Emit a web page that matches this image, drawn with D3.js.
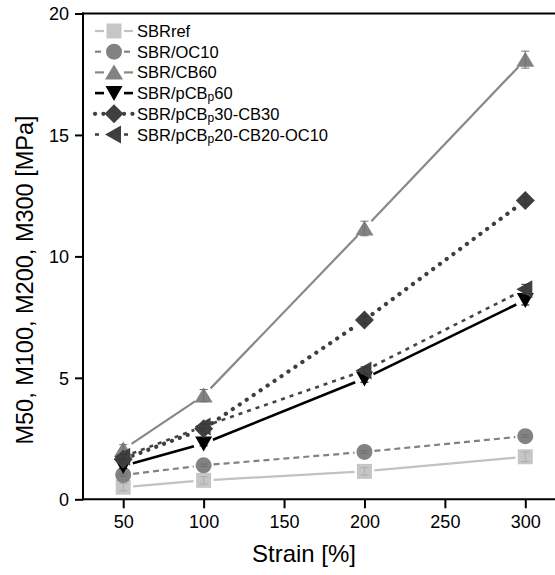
<!DOCTYPE html>
<html>
<head>
<meta charset="utf-8">
<script src="https://cdn.jsdelivr.net/npm/d3@7"></script>
<style>
  body { margin: 0; background: #fff; }
  text { font-family: Arial, "Liberation Sans", sans-serif; fill: #000; }
</style>
</head>
<body>
<div id="chart"></div>
<script>
// ------------------------------------
// Data
// ------------------------------------
const strain = [50, 100, 200, 300];
const xTicks = [50, 100, 150, 200, 250, 300];
const yTicks = [0, 5, 10, 15, 20];

const seriesNames = ["SBRref", "SBR/OC10", "SBR/CB60", "SBR/pCBp60", "SBR/pCBp30-CB30", "SBR/pCBp20-CB20-OC10"];

const sbrRef   = [0.5, 0.78, 1.15, 1.75];
const sbrOC10  = [1.0, 1.4, 1.95, 2.6];
const sbrCB60  = [2.05, 4.27, 11.15, 18.1];
const pCB60    = [1.37, 2.3, 4.97, 8.2];
const pCB30CB  = [1.65, 2.9, 7.38, 12.3];
const pCB20mix = [1.75, 3.0, 5.3, 8.65];

const errRef   = [0.15, 0.15, 0.15, 0.2];
const errOC10  = [0.05, 0.05, 0.05, 0.05];
const errCB60  = [0.2, 0.25, 0.3, 0.35];
const errPCB60 = [0.1, 0.1, 0.15, 0.2];
const errPCB30 = [0.1, 0.1, 0.15, 0.15];
const errPCB20 = [0.1, 0.1, 0.15, 0.2];

// ------------------------------------
// Styles per series
// ------------------------------------
const styles = [
  { values: sbrRef,   err: errRef,   marker: "square",  fill: "#c6c6c6", line: "#c2c2c2", width: 2.2, dash: null,      cap: "butt" },
  { values: sbrOC10,  err: errOC10,  marker: "circle",  fill: "#828282", line: "#828282", width: 2.2, dash: "6 4",     cap: "butt" },
  { values: sbrCB60,  err: errCB60,  marker: "up",      fill: "#828282", line: "#888888", width: 2.2, dash: null,      cap: "butt" },
  { values: pCB60,    err: errPCB60, marker: "down",    fill: "#000000", line: "#000000", width: 2.6, dash: null,      cap: "butt" },
  { values: pCB30CB,  err: errPCB30, marker: "diamond", fill: "#3f3f3f", line: "#3f3f3f", width: 4.2, dash: "0.1 8.3", cap: "round" },
  { values: pCB20mix, err: errPCB20, marker: "left",    fill: "#3f3f3f", line: "#444444", width: 2.6, dash: "4 5",     cap: "butt" }
];

const markerPaths = {
  square:  "M-7.5,-7.5h15v15h-15Z",
  circle:  "M8,0A8,8 0 1,1 -8,0A8,8 0 1,1 8,0Z",
  up:      "M0,-8L9,7L-9,7Z",
  down:    "M0,8L8.5,-7L-8.5,-7Z",
  diamond: "M0,-9.5L9.5,0L0,9.5L-9.5,0Z",
  left:    "M-9,0L7,-9L7,9Z"
};

// ------------------------------------
// Build chart
// ------------------------------------
const width = 555, height = 575;

const svg = d3.select("#chart")
    .append("svg")
    .attr("width", width)
    .attr("height", height);

const x = d3.scaleLinear().domain([25, 325]).range([83, 565.5]);
const y = d3.scaleLinear().domain([0, 20]).range([499.3, 13.5]);

// lines between markers, trimmed so they stop short of the symbols
const gap = 10;
styles.forEach(s => {
  const pts = strain.map((v, i) => [x(v), y(s.values[i])]);
  for (let i = 0; i < pts.length - 1; i++) {
    const [x0, y0] = pts[i], [x1, y1] = pts[i + 1];
    const len = Math.hypot(x1 - x0, y1 - y0);
    const ux = (x1 - x0) / len, uy = (y1 - y0) / len;
    svg.append("line")
        .attr("x1", x0 + ux * gap).attr("y1", y0 + uy * gap)
        .attr("x2", x1 - ux * gap).attr("y2", y1 - uy * gap)
        .attr("stroke", s.line)
        .attr("stroke-width", s.width)
        .attr("stroke-linecap", s.cap)
        .attr("stroke-dasharray", s.dash);
  }
});

// markers + error bars
styles.forEach(s => {
  const g = svg.append("g");
  strain.forEach((v, i) => {
    const cx = x(v), cy = y(s.values[i]);
    g.append("path")
        .attr("d", markerPaths[s.marker])
        .attr("transform", `translate(${cx},${cy})`)
        .attr("fill", s.fill);
    const yt = y(s.values[i] + s.err[i]), yb = y(s.values[i] - s.err[i]);
    const ec = d3.color(s.fill).darker(0.4);
    g.append("line").attr("x1", cx).attr("x2", cx).attr("y1", yt).attr("y2", yb)
        .attr("stroke", ec).attr("stroke-width", 1);
    [yt, yb].forEach(yy => g.append("line")
        .attr("x1", cx - 4).attr("x2", cx + 4).attr("y1", yy).attr("y2", yy)
        .attr("stroke", ec).attr("stroke-width", 1));
  });
});

// ------------------------------------
// Axes
// ------------------------------------
const xAxis = svg.append("g")
    .attr("transform", `translate(0,${y(0)})`)
    .call(d3.axisBottom(x).tickValues(xTicks).tickSize(9).tickPadding(7));
xAxis.select(".domain").attr("d", `M83,0H555`);

const yAxis = svg.append("g")
    .attr("transform", `translate(83,0)`)
    .call(d3.axisLeft(y).tickValues(yTicks).tickSize(8).tickPadding(6));

[xAxis, yAxis].forEach(a => {
  a.select(".domain").attr("stroke", "#000").attr("stroke-width", 2);
  a.selectAll(".tick line").attr("stroke", "#000").attr("stroke-width", 2);
  a.selectAll(".tick text")
      .style("font-family", "Arial, 'Liberation Sans', sans-serif")
      .style("font-size", "18px")
      .attr("fill", "#000");
});
yAxis.select(".domain").attr("d", `M0,${y(0) + 1}V${y(20) - 1}`);
yAxis.selectAll(".tick text").attr("dy", "0.36em");

// top border
svg.append("line")
    .attr("x1", 82).attr("x2", 555)
    .attr("y1", y(20)).attr("y2", y(20))
    .attr("stroke", "#000").attr("stroke-width", 2);

// axis titles
svg.append("text")
    .attr("x", 304).attr("y", 562)
    .attr("text-anchor", "middle")
    .style("font-size", "24px")
    .text("Strain [%]");

svg.append("text")
    .attr("transform", "translate(33,280) rotate(-90)")
    .attr("text-anchor", "middle")
    .style("font-size", "23.5px")
    .text("M50, M100, M200, M300 [MPa]");

// ------------------------------------
// Legend
// ------------------------------------
const legend = svg.append("g");
styles.forEach((s, i) => {
  const ly = 31 + i * 20.7;
  [[95, 104], [124, 133]].forEach(([a, b]) => legend.append("line")
      .attr("x1", a).attr("x2", b).attr("y1", ly).attr("y2", ly)
      .attr("stroke", s.line).attr("stroke-width", s.width)
      .attr("stroke-linecap", s.cap)
      .attr("stroke-dasharray", s.dash));
  legend.append("path")
      .attr("d", markerPaths[s.marker])
      .attr("transform", `translate(114,${ly})`)
      .attr("fill", s.fill);

  const t = legend.append("text")
      .attr("x", 137).attr("y", ly + 6)
      .style("font-size", "16.5px");
  const name = seriesNames[i];
  const k = name.indexOf("pCBp");
  if (k < 0) {
    t.text(name);
  } else {
    t.append("tspan").text(name.slice(0, k + 3));
    t.append("tspan").attr("dy", 2).style("font-size", "12px").text("p");
    t.append("tspan").attr("dy", -2).text(name.slice(k + 4));
  }
});
</script>
</body>
</html>
